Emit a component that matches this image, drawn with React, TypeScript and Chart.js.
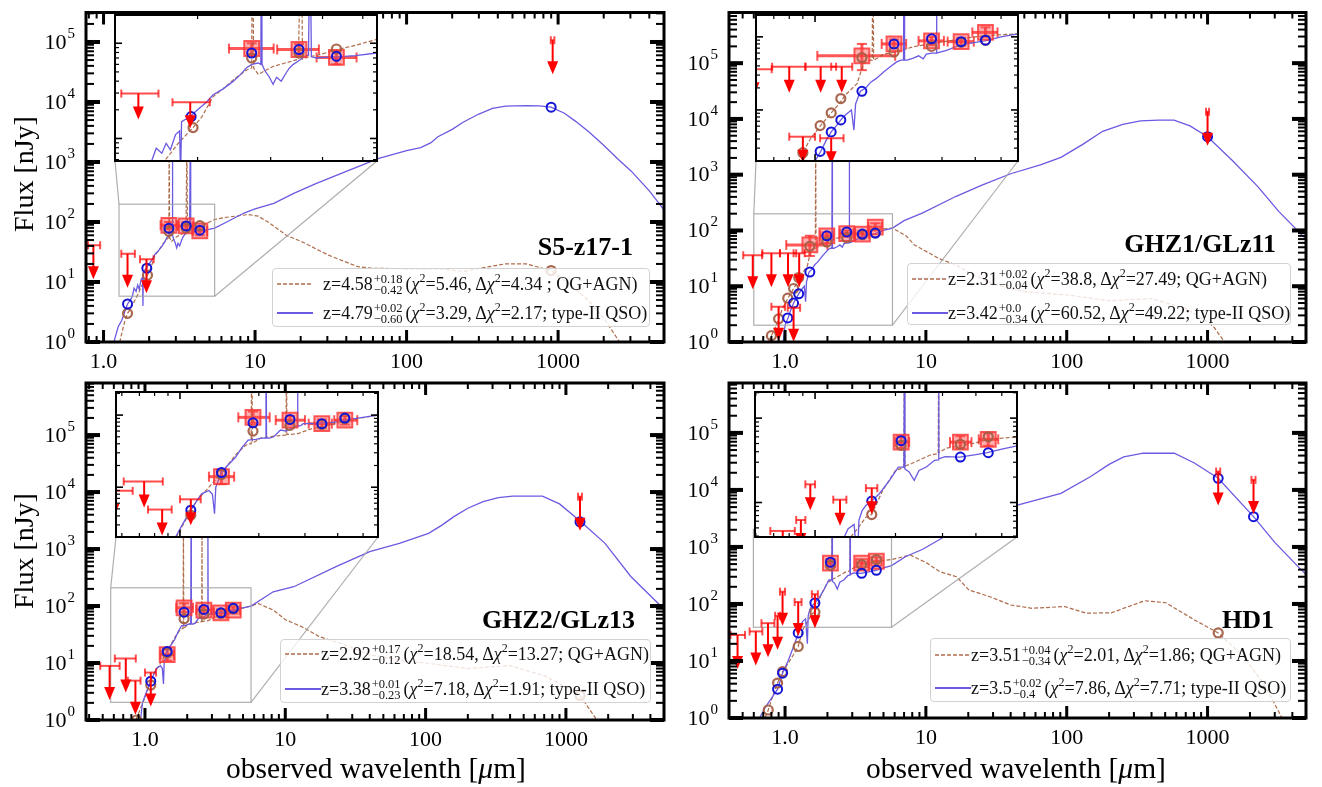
import React, { useEffect, useRef } from 'react';
import { Chart, registerables } from 'chart.js';

Chart.register(...registerables);

const W = 1322;
const H = 787;
const SERIF = '"Liberation Serif", "Times New Roman", Times, serif';

const QSO_LINE = 'rgb(106, 90, 225)';
const QG_LINE = 'rgba(160, 82, 45, 0.85)';
const QSO_PT = 'rgb(20, 20, 215)';
const QG_PT = 'rgba(165, 95, 70, 0.95)';
const RED = 'rgb(255, 0, 0)';

// ---------- tick labels ----------
const X_TICK_VALUES = [1, 10, 100, 1000];
const X_TICK_LABELS = ['1.0', '10', '100', '1000'];
const Y_TICK_EXPONENTS = [0, 1, 2, 3, 4, 5];

// ---------- S5-z17-1 ----------
const S5_XRANGE = [0.766, 5000];
const S5_YRANGE = [1, 3.1e5];
const S5_INSET_XRANGE = [1.265, 5.41];
const S5_INSET_YRANGE = [5.8, 198];
const S5_QSO_SED = [
  [1.10, 0.5], [1.17, 1.0], [1.25, 1.8], [1.32, 2.3], [1.38, 3.2], [1.44, 4.3], [1.50, 5.0], [1.55, 5.8],
  [1.59, 7.9], [1.64, 7.0], [1.68, 8.9], [1.72, 7.6], [1.77, 11], [1.81, 12], [1.82, 4.0], [1.83, 15],
  [1.92, 17], [2.00, 20], [2.10, 24], [2.18, 28.8], [2.30, 33], [2.44, 40], [2.55, 48], [2.62, 55],
  [2.70, 60], [2.80, 62], [2.84, 60], [2.85, 2500], [2.86, 60], [2.90, 52], [2.97, 45], [3.04, 37],
  [3.10, 44], [3.18, 40], [3.27, 49], [3.33, 55], [3.40, 60], [3.50, 65], [3.62, 73], [3.70, 75],
  [3.73, 1500], [3.76, 72], [3.87, 70], [4.00, 71], [4.32, 72], [4.80, 74], [5.41, 79], [6.5, 100],
  [8.46, 141], [10, 165], [13.3, 205], [18, 300], [25.2, 437], [40, 700], [65.6, 1150], [100, 1550],
  [124, 1740], [145, 2100], [161, 2630], [200, 3500], [236, 4600], [300, 6300], [369, 7800], [450, 8500],
  [615, 8700], [750, 8600], [900, 8200], [1100, 6500], [1300, 4800], [1600, 3160], [2000, 1900],
  [2500, 1100], [3030, 710], [4000, 330], [5000, 160],
];
const S5_QG_SED = [
  [1.22, 0.5], [1.30, 1.2], [1.38, 2.2], [1.44, 3.0], [1.50, 3.5], [1.58, 4.5], [1.70, 6.5], [1.80, 9],
  [1.95, 13], [2.05, 17], [2.18, 27.5], [2.30, 33], [2.45, 42], [2.62, 52], [2.70, 55], [2.71, 3000],
  [2.73, 55], [2.80, 47], [2.92, 52], [3.04, 57], [3.25, 62], [3.50, 68], [3.55, 2500], [3.58, 68],
  [3.70, 72], [3.90, 75], [4.30, 85], [4.80, 95], [5.41, 110], [6.5, 120], [9.0, 133], [10.5, 125],
  [12.4, 97], [16.1, 60], [20.7, 46], [30.5, 28], [47.6, 18], [57.5, 17], [96, 16.6], [171, 16.6],
  [236, 15], [350, 18], [447, 20], [616, 20], [900, 15.5], [1200, 9], [1600, 4.8], [2000, 2.5],
  [2500, 1.07], [3000, 0.5],
];
const S5_DETECTIONS = [
  [2.70, 88, 2.38, 3.05, 76, 100], [3.51, 86, 3.11, 3.92, 75, 98], [4.32, 71, 3.87, 4.83, 60, 82],
];
const S5_LIMITS = [[0.857, 41, 0.79, 0.95], [1.44, 29.6, 1.31, 1.61], [1.92, 24, 1.74, 2.14], [921, 1.07e5, 895, 945]];
const S5_QSO_PTS = [[1.44, 4.3], [1.93, 17], [2.70, 79], [3.51, 86], [4.32, 73], [900, 8200]];
const S5_QG_PTS = [[1.44, 3.0], [1.95, 13], [2.70, 70], [3.51, 79], [4.32, 87], [900, 15.5]];

// ---------- GHZ1/GLz11 ----------
const GHZ1_XRANGE = [0.4, 5000];
const GHZ1_YRANGE = [1, 8.1e5];
const GHZ1_INSET_XRANGE = [0.60, 5.79];
const GHZ1_INSET_YRANGE = [2.0, 199];
const GHZ1_QSO_SED = [
  [0.93, 0.5], [0.97, 1.0], [1.00, 2.0], [1.05, 2.7], [1.10, 3.8], [1.15, 5.0], [1.20, 6.0], [1.25, 7.3],
  [1.30, 8.5], [1.37, 10], [1.40, 5.3], [1.42, 12], [1.48, 18], [1.55, 20], [1.62, 24], [1.70, 27],
  [1.81, 33], [1.90, 38], [2.02, 45], [2.10, 48], [2.15, 48], [2.16, 4000], [2.17, 48], [2.22, 48],
  [2.34, 51], [2.45, 55], [2.55, 50], [2.62, 58], [2.75, 60], [2.85, 60], [2.86, 3000], [2.87, 60],
  [2.95, 62], [3.10, 65], [3.37, 73], [3.60, 78], [4.00, 84], [4.35, 88], [5.00, 100], [5.79, 110],
  [7.0, 150], [9.5, 207], [16.4, 410], [25, 650], [40, 1040], [65, 1500], [91, 2040], [130, 3500],
  [180, 6000], [250, 8000], [334, 9200], [450, 9500], [578, 9500], [750, 7500], [1000, 4800],
  [1500, 1800], [2275, 610], [3200, 220], [5000, 70],
];
const GHZ1_QG_SED = [
  [0.72, 0.5], [0.76, 1.0], [0.80, 1.3], [0.87, 2.0], [0.90, 2.6], [0.96, 4.0], [1.045, 6.0], [1.10, 7.5],
  [1.15, 9.1], [1.23, 12], [1.30, 16], [1.44, 23], [1.52, 43], [1.60, 48], [1.64, 48], [1.65, 5000],
  [1.66, 48], [1.70, 50], [1.81, 58], [2.00, 62], [2.34, 73], [2.80, 82], [3.37, 91], [4.00, 100],
  [4.80, 106], [5.79, 110], [7.2, 81], [8.3, 55], [12.5, 31], [16.4, 24], [20, 18], [30, 11], [50, 8],
  [100, 7], [200, 5.5], [400, 6], [700, 4], [1000, 2.3], [1100, 1.9], [1320, 1.0], [1500, 0.6],
];
const GHZ1_DETECTIONS = [
  [1.50, 55, 1.02, 2.0, 35, 80], [1.98, 80, 1.78, 2.2, 70, 92], [2.74, 88, 2.45, 3.05, 77, 100],
  [3.54, 86, 3.15, 3.95, 76, 97], [4.37, 115, 3.9, 4.85, 100, 135],
];
const GHZ1_LIMITS = [
  [0.59, 36, 0.505, 0.687], [0.80, 39, 0.69, 0.92], [1.05, 39, 0.92, 1.2], [1.26, 39, 1.15, 1.38],
  [0.90, 4.3, 0.80, 1.0], [1.15, 4.1, 1.045, 1.28], [1000, 13500, 975, 1025],
];
const GHZ1_QSO_PTS = [[1.045, 2.7], [1.15, 5.0], [1.25, 7.3], [1.50, 18], [1.98, 80], [2.74, 94], [3.54, 86], [4.37, 90], [1000, 4800]];
const GHZ1_QG_PTS = [[0.80, 1.3], [0.90, 2.6], [1.045, 6.1], [1.15, 9.1], [1.25, 14.3], [1.50, 52], [1.98, 62], [2.74, 74], [3.54, 84], [4.37, 90]];

// ---------- GHZ2/GLz13 ----------
const GHZ2_XRANGE = [0.38, 5000];
const GHZ2_YRANGE = [1, 8.2e5];
const GHZ2_INSET_XRANGE = [0.57, 5.7];
const GHZ2_INSET_YRANGE = [2.04, 209];
const GHZ2_QSO_SED = [
  [0.90, 0.5], [0.93, 1.0], [0.96, 2.0], [1.02, 3.0], [1.10, 4.8], [1.16, 6.5], [1.21, 8.1], [1.29, 9.0],
  [1.33, 8.0], [1.355, 4.3], [1.37, 10], [1.44, 16], [1.52, 20], [1.63, 26], [1.72, 35], [1.82, 45],
  [1.95, 46], [2.05, 48], [2.12, 48], [2.13, 3000], [2.14, 48], [2.20, 48], [2.28, 50], [2.42, 62],
  [2.55, 60], [2.70, 68], [2.80, 70], [2.81, 2500], [2.82, 70], [2.90, 72], [2.95, 76], [3.30, 76],
  [3.90, 80], [4.50, 88], [5.70, 100], [8.2, 178], [11.5, 218], [23, 490], [40, 900], [65, 1260],
  [105, 1880], [130, 2600], [159, 3700], [200, 5200], [257, 6800], [330, 8000], [417, 8500], [680, 8500],
  [900, 6200], [1260, 3100], [1900, 1260], [2900, 330], [4550, 111], [5000, 85],
];
const GHZ2_QG_SED = [
  [0.82, 0.5], [0.86, 1.0], [0.92, 1.5], [0.98, 2.2], [1.05, 3.5], [1.12, 5.4], [1.20, 7.5], [1.29, 10],
  [1.40, 14], [1.50, 19], [1.63, 28], [1.75, 36], [1.82, 40], [1.87, 40], [1.88, 3500], [1.89, 42],
  [1.92, 42], [2.03, 48], [2.20, 50], [2.40, 52], [2.54, 53], [2.55, 1800], [2.56, 54], [2.62, 54],
  [2.80, 55], [3.20, 65], [3.90, 76], [4.80, 90], [5.70, 100], [6.4, 111], [8.2, 85], [10.1, 57],
  [13.2, 43], [17.5, 29], [25, 22], [40, 14], [70, 11], [100, 10], [200, 8], [400, 9], [700, 6],
  [1000, 3.8], [1260, 2.7], [1660, 1.0], [2000, 0.5],
];
const GHZ2_DETECTIONS = [
  [1.44, 14, 1.29, 1.61, 11, 17.5], [1.90, 93, 1.67, 2.20, 78, 112], [2.63, 85, 2.32, 3.0, 74, 97],
  [3.48, 76, 3.10, 3.80, 66, 87], [4.26, 85, 3.88, 4.75, 74, 97],
];
const GHZ2_LIMITS = [[0.56, 8.9, 0.48, 0.66], [0.73, 12, 0.61, 0.86], [0.855, 4.9, 0.755, 0.93], [1.10, 6.8, 1.0, 1.2], [1260, 8300, 1220, 1300]];
const GHZ2_QSO_PTS = [[1.10, 4.8], [1.44, 16], [1.90, 78], [2.63, 87], [3.48, 76], [4.26, 91], [1260, 3000]];
const GHZ2_QG_PTS = [[0.87, 1.0], [1.10, 4.1], [1.44, 15], [1.90, 60], [2.63, 72], [3.48, 74], [4.26, 89], [1260, 2.7]];

// ---------- HD1 ----------
const HD1_XRANGE = [0.4, 5000];
const HD1_YRANGE = [1, 7.5e5];
const HD1_INSET_XRANGE = [0.596, 5.7];
const HD1_INSET_YRANGE = [39, 2040];
const HD1_QSO_SED = [
  [0.64, 0.5], [0.66, 1.0], [0.72, 1.5], [0.80, 2.2], [0.885, 3.2], [0.96, 6.1], [1.05, 10], [1.15, 18],
  [1.24, 30], [1.30, 42], [1.33, 49], [1.40, 55], [1.44, 20], [1.46, 62], [1.50, 80], [1.55, 92],
  [1.63, 104], [1.74, 127], [1.90, 183], [2.05, 263], [2.15, 263], [2.16, 6000], [2.17, 250], [2.25, 230],
  [2.35, 183], [2.45, 240], [2.61, 263], [2.80, 316], [2.89, 320], [2.90, 5000], [2.91, 330], [3.07, 350],
  [3.48, 345], [4.00, 370], [4.41, 390], [5.00, 430], [5.70, 470], [7.2, 680], [9.5, 910], [16.5, 2000],
  [28.5, 3900], [46, 5500], [91, 8700], [147, 17000], [200, 28000], [254, 38000], [350, 44000],
  [580, 44000], [800, 30000], [1190, 16000], [2120, 3400], [3000, 1200], [4500, 425], [5000, 330],
];
const HD1_QG_SED = [
  [0.70, 0.5], [0.72, 1.0], [0.76, 1.38], [0.82, 2.5], [0.885, 4.1], [0.96, 6.5], [1.05, 9.0], [1.15, 13],
  [1.24, 18], [1.30, 28], [1.36, 39], [1.45, 50], [1.55, 67], [1.63, 72], [1.79, 138], [2.00, 240],
  [2.15, 260], [2.16, 5000], [2.17, 270], [2.30, 290], [2.70, 365], [2.89, 380], [2.90, 4000], [2.91, 390],
  [3.10, 440], [3.90, 500], [4.45, 560], [5.70, 600], [7.75, 720], [10.2, 520], [12.5, 370], [16.5, 300],
  [20.2, 176], [28.5, 134], [40, 96], [56.5, 84], [97, 90], [137, 69], [207, 70], [358, 114], [505, 105],
  [813, 52], [1190, 31], [1800, 12], [2500, 4], [3200, 1.3], [3500, 0.8],
];
const HD1_DETECTIONS = [[2.10, 520, 2.0, 2.25, 440, 610], [3.50, 520, 3.2, 3.85, 440, 610], [4.45, 560, 4.1, 4.85, 470, 660]];
const HD1_LIMITS = [
  [0.46, 28.6, 0.41, 0.52], [0.62, 33, 0.56, 0.69], [0.757, 46, 0.68, 0.84], [0.885, 62, 0.85, 0.92],
  [0.96, 164, 0.92, 1.0], [1.24, 108, 1.17, 1.31], [1.63, 148, 1.55, 1.71], [1190, 21000, 1150, 1230],
  [2120, 15000, 2050, 2190],
];
const HD1_QSO_PTS = [[0.885, 3.2], [0.96, 6.1], [1.24, 31], [1.63, 104], [2.10, 540], [3.50, 345], [4.45, 390], [1190, 16000], [2120, 3400]];
const HD1_QG_PTS = [[0.76, 1.38], [0.885, 4.1], [0.96, 6.5], [1.24, 18], [1.63, 72], [2.10, 475], [3.50, 490], [4.45, 600], [1190, 31]];

// ---------- layout ----------
type Box = { l: number; t: number; r: number; b: number };
type Panel = {
  area: Box; inset: Box;
  xlim: number[]; ylim: number[]; ixlim: number[]; iylim: number[];
  qso: number[][]; qg: number[][]; det: number[][]; lim: number[][]; qsoPts: number[][]; qgPts: number[][];
};

const PANELS: Panel[] = [
  {
    area: { l: 86, t: 5, r: 664, b: 342 }, inset: { l: 115, t: 15, r: 377, b: 161 },
    xlim: S5_XRANGE, ylim: S5_YRANGE, ixlim: S5_INSET_XRANGE, iylim: S5_INSET_YRANGE,
    qso: S5_QSO_SED, qg: S5_QG_SED, det: S5_DETECTIONS, lim: S5_LIMITS, qsoPts: S5_QSO_PTS, qgPts: S5_QG_PTS,
  },
  {
    area: { l: 729, t: 5, r: 1306, b: 342 }, inset: { l: 756, t: 15, r: 1018, b: 161 },
    xlim: GHZ1_XRANGE, ylim: GHZ1_YRANGE, ixlim: GHZ1_INSET_XRANGE, iylim: GHZ1_INSET_YRANGE,
    qso: GHZ1_QSO_SED, qg: GHZ1_QG_SED, det: GHZ1_DETECTIONS, lim: GHZ1_LIMITS, qsoPts: GHZ1_QSO_PTS, qgPts: GHZ1_QG_PTS,
  },
  {
    area: { l: 86, t: 383, r: 664, b: 720 }, inset: { l: 116, t: 392, r: 378, b: 537 },
    xlim: GHZ2_XRANGE, ylim: GHZ2_YRANGE, ixlim: GHZ2_INSET_XRANGE, iylim: GHZ2_INSET_YRANGE,
    qso: GHZ2_QSO_SED, qg: GHZ2_QG_SED, det: GHZ2_DETECTIONS, lim: GHZ2_LIMITS, qsoPts: GHZ2_QSO_PTS, qgPts: GHZ2_QG_PTS,
  },
  {
    area: { l: 729, t: 383, r: 1306, b: 718 }, inset: { l: 755, t: 392, r: 1017, b: 537 },
    xlim: HD1_XRANGE, ylim: HD1_YRANGE, ixlim: HD1_INSET_XRANGE, iylim: HD1_INSET_YRANGE,
    qso: HD1_QSO_SED, qg: HD1_QG_SED, det: HD1_DETECTIONS, lim: HD1_LIMITS, qsoPts: HD1_QSO_PTS, qgPts: HD1_QG_PTS,
  },
];

const LEGENDS = [
  {
    box: { l: 272, t: 268, w: 378, h: 59 }, textLeft: 50, rowY: [15, 44],
    rows: [
      { qg: true, z: '4.58', up: '+0.18', lo: '−0.42', chi: '5.46', dchi: '4.34', tail: ' ; QG+AGN)' },
      { qg: false, z: '4.79', up: '+0.02', lo: '−0.60', chi: '3.29', dchi: '2.17', tail: '; type-II QSO)' },
    ],
  },
  {
    box: { l: 907, t: 263, w: 384, h: 62 }, textLeft: 40, rowY: [15, 49],
    rows: [
      { qg: true, z: '2.31', up: '+0.02', lo: '−0.04', chi: '38.8', dchi: '27.49', tail: '; QG+AGN)' },
      { qg: false, z: '3.42', up: '+0.0', lo: '−0.34', chi: '60.52', dchi: '49.22', tail: '; type-II QSO)' },
    ],
  },
  {
    box: { l: 280, t: 639, w: 371, h: 64 }, textLeft: 40, rowY: [14, 49],
    rows: [
      { qg: true, z: '2.92', up: '+0.17', lo: '−0.12', chi: '18.54', dchi: '13.27', tail: '; QG+AGN)' },
      { qg: false, z: '3.38', up: '+0.01', lo: '−0.23', chi: '7.18', dchi: '1.91', tail: '; type-II QSO)' },
    ],
  },
  {
    box: { l: 930, t: 638, w: 361, h: 64 }, textLeft: 40, rowY: [16, 49],
    rows: [
      { qg: true, z: '3.51', up: '+0.04', lo: '−0.34', chi: '2.01', dchi: '1.86', tail: '; QG+AGN)' },
      { qg: false, z: '3.5', up: '+0.02', lo: '−0.4', chi: '7.86', dchi: '7.71', tail: '; type-II QSO)' },
    ],
  },
];

const NAMES = [
  { text: 'S5-z17-1', right: 633, cy: 247 },
  { text: 'GHZ1/GLz11', right: 1276, cy: 244 },
  { text: 'GHZ2/GLz13', right: 635, cy: 620 },
  { text: 'HD1', right: 1274, cy: 620 },
];

// ---------- drawing helpers ----------
function seg(ctx: CanvasRenderingContext2D, x0: number, y0: number, x1: number, y1: number) {
  ctx.beginPath();
  ctx.moveTo(x0, y0);
  ctx.lineTo(x1, y1);
  ctx.stroke();
}

function logTicks(min: number, max: number) {
  const out: { v: number; major: boolean }[] = [];
  for (let k = Math.floor(Math.log10(min)); k <= Math.ceil(Math.log10(max)); k++) {
    for (let m = 1; m < 10; m++) {
      const v = m * Math.pow(10, k);
      if (v >= min * 0.999 && v <= max * 1.001) out.push({ v, major: m === 1 });
    }
  }
  return out;
}

function clipArea(ctx: CanvasRenderingContext2D, a: any) {
  ctx.beginPath();
  ctx.rect(a.left, a.top, a.right - a.left, a.bottom - a.top);
  ctx.clip();
}

function makePlugin(p: Panel, inset: boolean) {
  return {
    id: inset ? 'sedInset' : 'sedMain',
    beforeDraw(chart: any) {
      if (!inset) return;
      const { ctx, chartArea: a } = chart;
      ctx.save();
      ctx.fillStyle = '#ffffff';
      ctx.fillRect(a.left, a.top, a.right - a.left, a.bottom - a.top);
      ctx.restore();
    },
    beforeDatasetsDraw(chart: any) {
      const { ctx, chartArea: a, scales } = chart;
      const xs = scales.x, ys = scales.y;
      ctx.save();
      clipArea(ctx, a);
      ctx.strokeStyle = 'rgba(255, 30, 30, 0.75)';
      for (const d of p.det) {
        const px = xs.getPixelForValue(d[0]);
        const py = ys.getPixelForValue(d[1]);
        const x0 = xs.getPixelForValue(d[2]);
        const x1 = xs.getPixelForValue(d[3]);
        const y0 = ys.getPixelForValue(d[4]);
        const y1 = ys.getPixelForValue(d[5]);
        ctx.lineWidth = 3;
        seg(ctx, x0, py, x1, py);
        seg(ctx, px, y0, px, y1);
        ctx.lineWidth = 2;
        seg(ctx, x0, py - 5, x0, py + 5);
        seg(ctx, x1, py - 5, x1, py + 5);
        seg(ctx, px - 5, y0, px + 5, y0);
        seg(ctx, px - 5, y1, px + 5, y1);
      }
      ctx.restore();
    },
    afterDatasetsDraw(chart: any) {
      const { ctx, chartArea: a, scales } = chart;
      const xs = scales.x, ys = scales.y;
      ctx.save();
      clipArea(ctx, a);
      if (!inset) {
        const rx0 = xs.getPixelForValue(p.ixlim[0]);
        const rx1 = xs.getPixelForValue(p.ixlim[1]);
        const ry0 = ys.getPixelForValue(p.iylim[1]);
        const ry1 = ys.getPixelForValue(p.iylim[0]);
        ctx.strokeStyle = 'rgba(160, 160, 160, 0.85)';
        ctx.lineWidth = 1.2;
        ctx.strokeRect(rx0, ry0, rx1 - rx0, ry1 - ry0);
        seg(ctx, rx0, ry0, p.inset.l, p.inset.b);
        seg(ctx, rx1, ry1, p.inset.r, p.inset.b);
      }
      const len = inset ? 26 : 34;
      for (const l of p.lim) {
        const px = xs.getPixelForValue(l[0]);
        const py = ys.getPixelForValue(l[1]);
        const x0 = xs.getPixelForValue(l[2]);
        const x1 = xs.getPixelForValue(l[3]);
        ctx.strokeStyle = 'rgba(255, 0, 0, 0.7)';
        ctx.lineWidth = 2;
        seg(ctx, x0, py, x1, py);
        seg(ctx, x0, py - 4, x0, py + 4);
        seg(ctx, x1, py - 4, x1, py + 4);
        ctx.strokeStyle = RED;
        seg(ctx, px, py, px, py + len - 10);
        ctx.fillStyle = RED;
        ctx.beginPath();
        ctx.moveTo(px - 5.5, py + len - 13);
        ctx.lineTo(px + 5.5, py + len - 13);
        ctx.lineTo(px, py + len);
        ctx.closePath();
        ctx.fill();
      }
      ctx.restore();
    },
    afterDraw(chart: any) {
      const { ctx, chartArea: a, scales } = chart;
      const xs = scales.x, ys = scales.y;
      ctx.save();
      ctx.fillStyle = '#000';
      const majL = inset ? 7 : 12;
      const minL = inset ? 4 : 6;
      const majW = inset ? 1.6 : 3;
      const minW = inset ? 1.2 : 2;
      for (const t of logTicks(xs.min, xs.max)) {
        const x = xs.getPixelForValue(t.v);
        const len = t.major ? majL : minL;
        const w = t.major ? majW : minW;
        ctx.fillRect(x - w / 2, a.bottom - len, w, len);
        ctx.fillRect(x - w / 2, a.top, w, len);
      }
      for (const t of logTicks(ys.min, ys.max)) {
        const y = ys.getPixelForValue(t.v);
        const len = t.major ? majL + (inset ? 0 : 2) : minL + (inset ? 0 : 2);
        const w = t.major ? majW + (inset ? 0 : 1) : minW;
        ctx.fillRect(a.left, y - w / 2, len, w);
        ctx.fillRect(a.right - len, y - w / 2, len, w);
      }
      ctx.strokeStyle = '#000';
      ctx.lineWidth = inset ? 2 : 3;
      ctx.strokeRect(a.left, a.top, a.right - a.left, a.bottom - a.top);
      if (!inset) {
        ctx.textAlign = 'center';
        ctx.textBaseline = 'middle';
        ctx.font = `22px ${SERIF}`;
        X_TICK_VALUES.forEach((v, i) => {
          if (v < xs.min || v > xs.max) return;
          ctx.fillText(X_TICK_LABELS[i], xs.getPixelForValue(v), a.bottom + 20);
        });
        for (const k of Y_TICK_EXPONENTS) {
          const v = Math.pow(10, k);
          if (v < ys.min || v > ys.max) continue;
          const y = ys.getPixelForValue(v);
          ctx.font = `22px ${SERIF}`;
          const wb = ctx.measureText('10').width;
          ctx.font = `15px ${SERIF}`;
          const sup = String(k);
          const ws = ctx.measureText(sup).width;
          const right = a.left - 11;
          ctx.textAlign = 'left';
          ctx.font = `22px ${SERIF}`;
          ctx.fillText('10', right - ws - wb - 1, y + 1);
          ctx.font = `15px ${SERIF}`;
          ctx.fillText(sup, right - ws, y - 8);
        }
      }
      ctx.restore();
    },
  };
}

function makeChart(canvas: HTMLCanvasElement, p: Panel, inset: boolean) {
  const box = inset ? p.inset : p.area;
  const xlim = inset ? p.ixlim : p.xlim;
  const ylim = inset ? p.iylim : p.ylim;
  const toXY = (arr: number[][]) => arr.map((r) => ({ x: r[0], y: r[1] }));
  const transparent = 'rgba(0,0,0,0)';
  return new Chart(canvas, {
    type: 'scatter',
    data: {
      datasets: [
        {
          label: 'type-II QSO model photometry', data: toXY(p.qsoPts), pointStyle: 'circle', pointRadius: 4.5,
          pointHoverRadius: 4.5, borderWidth: 2, borderColor: QSO_PT, backgroundColor: transparent, order: 0,
        },
        {
          label: 'QG+AGN model photometry', data: toXY(p.qgPts), pointStyle: 'circle', pointRadius: 4.5,
          pointHoverRadius: 4.5, borderWidth: 2.2, borderColor: QG_PT, backgroundColor: transparent, order: 0,
        },
        {
          label: 'observed', data: toXY(p.det), pointStyle: 'rect', pointRadius: 10.5, pointHoverRadius: 10.5,
          borderWidth: 2, borderColor: 'rgba(255, 50, 50, 0.8)', backgroundColor: 'rgba(255, 80, 80, 0.45)', order: 2,
        },
        {
          label: 'type-II QSO', data: toXY(p.qso), showLine: true, pointRadius: 0, pointHoverRadius: 0,
          borderColor: QSO_LINE, borderWidth: 1.3, order: 5, clip: 0, tension: 0,
        },
        {
          label: 'QG+AGN', data: toXY(p.qg), showLine: true, pointRadius: 0, pointHoverRadius: 0,
          borderColor: QG_LINE, borderWidth: 1.2, borderDash: [4, 2], order: 6, clip: 0, tension: 0,
        },
      ] as any,
    },
    options: {
      responsive: false,
      animation: false,
      devicePixelRatio: 1,
      events: [],
      layout: { padding: { left: box.l, top: box.t, right: W - box.r, bottom: H - box.b } },
      scales: {
        x: { type: 'logarithmic', min: xlim[0], max: xlim[1], display: false },
        y: { type: 'logarithmic', min: ylim[0], max: ylim[1], display: false },
      },
      plugins: { legend: { display: false }, tooltip: { enabled: false } },
    } as any,
    plugins: [makePlugin(p, inset) as any],
  });
}

function SedCanvas({ panel, inset }: { panel: Panel; inset: boolean }) {
  const ref = useRef<HTMLCanvasElement>(null);
  useEffect(() => {
    const chart = makeChart(ref.current as HTMLCanvasElement, panel, inset);
    return () => chart.destroy();
  }, [panel, inset]);
  return <canvas ref={ref} width={W} height={H} style={{ position: 'absolute', left: 0, top: 0 }} />;
}

function Scripts({ up, lo }: { up: string; lo: string }) {
  return (
    <span
      style={{
        display: 'inline-flex', flexDirection: 'column', verticalAlign: '7px', fontSize: 12.5,
        lineHeight: '11px', margin: '0 3px 0 1px',
      }}
    >
      <span>{up}</span>
      <span>{lo}</span>
    </span>
  );
}

function Sq() {
  return <sup style={{ fontSize: 12, lineHeight: 0, verticalAlign: '8px' }}>2</sup>;
}

function Legend({ cfg }: { cfg: any }) {
  const { box, rows, textLeft, rowY } = cfg;
  return (
    <div
      style={{
        position: 'absolute', left: box.l, top: box.t, width: box.w, height: box.h, boxSizing: 'border-box',
        background: 'rgba(255,255,255,0.8)', border: '1px solid #d2d2d2', borderRadius: 4,
        fontFamily: SERIF, fontSize: 18, color: '#111',
      }}
    >
      {rows.map((r: any, i: number) => (
        <div key={i} style={{ position: 'absolute', left: 0, top: rowY[i], width: '100%', height: 0 }}>
          <svg width={36} height={6} style={{ position: 'absolute', left: 4, top: -3 }}>
            <line
              x1={0} y1={3} x2={36} y2={3}
              stroke={r.qg ? QG_LINE : QSO_LINE}
              strokeWidth={r.qg ? 1.4 : 1.8}
              strokeDasharray={r.qg ? '4 2' : undefined}
            />
          </svg>
          <span style={{ position: 'absolute', left: textLeft, top: -12, whiteSpace: 'nowrap', lineHeight: '24px' }}>
            z={r.z}
            <Scripts up={r.up} lo={r.lo} />
            (<i>χ</i>
            <Sq />={r.chi}, Δ<i>χ</i>
            <Sq />={r.dchi}
            {r.tail}
          </span>
        </div>
      ))}
    </div>
  );
}

export default function App() {
  return (
    <div
      style={{
        position: 'absolute', left: 0, top: 0, width: W, height: H, background: '#fff', overflow: 'hidden',
        fontFamily: SERIF, color: '#000',
      }}
    >
      {PANELS.map((p, i) => (
        <React.Fragment key={i}>
          <SedCanvas panel={p} inset={false} />
          <SedCanvas panel={p} inset={true} />
        </React.Fragment>
      ))}
      {LEGENDS.map((l, i) => (
        <Legend key={'lg' + i} cfg={l} />
      ))}
      {NAMES.map((n, i) => (
        <div
          key={'nm' + i}
          style={{
            position: 'absolute', right: W - n.right, top: n.cy - 16, fontSize: 26, fontWeight: 'bold',
            lineHeight: '32px', whiteSpace: 'nowrap',
          }}
        >
          {n.text}
        </div>
      ))}
      {[174, 551].map((cy, i) => (
        <div
          key={'yl' + i}
          style={{
            position: 'absolute', left: 24, top: cy, fontSize: 28, whiteSpace: 'nowrap', lineHeight: '32px',
            transform: 'translate(-50%, -50%) rotate(-90deg)',
          }}
        >
          Flux [nJy]
        </div>
      ))}
      {[376, 1016].map((cx, i) => (
        <div
          key={'xl' + i}
          style={{
            position: 'absolute', left: cx, top: 768, fontSize: 29.5, whiteSpace: 'nowrap', lineHeight: '34px',
            transform: 'translate(-50%, -50%)',
          }}
        >
          observed wavelenth [<i>μ</i>m]
        </div>
      ))}
    </div>
  );
}
